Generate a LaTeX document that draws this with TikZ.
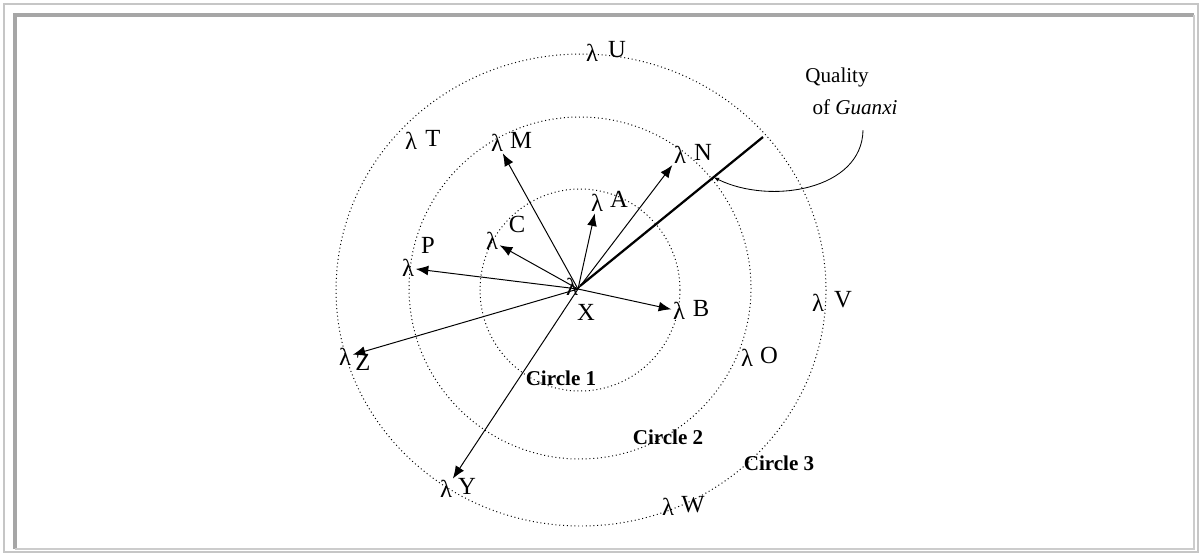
\documentclass[tikz,border=0pt]{standalone}
\usepackage{fontspec}
\setmainfont{Liberation Serif}
\usetikzlibrary{arrows.meta,calc}

\begin{document}
\begin{tikzpicture}[x=0.025cm, y=-0.025cm,
	every node/.style={font=\fontsize{17.5}{20}\selectfont, inner sep=1pt},
	ring/.style={dotted, line width=0.7pt},
	link/.style={line width=0.7pt, -{Latex[length=9pt,width=7pt]}},
	tag/.style={font=\bfseries\fontsize{15}{17}\selectfont}]
	\useasboundingbox (0,0) rectangle (1202,555);
	\draw[gray!45, line width=2pt] (4,4) rectangle (1198,552);
	\draw[gray!70, line width=2.5pt] (15,549) -- (15,15) -- (1194,15);
	\draw[gray!40, line width=1pt] (15,549) -- (1194,549) -- (1194,15);
	\coordinate (o) at (578,289);
	\draw[ring] (580,290) circle[x radius=100, y radius=101];
	\draw[ring] (580,288) circle[x radius=171, y radius=171];
	\draw[ring] (581,290) circle[x radius=245, y radius=236];
	\node (lM) at (497,143) {λ}; \node (M) at (521,140) {M};
	\node (lN) at (680,155) {λ}; \node (N) at (703,152) {N};
	\node (lA) at (597,203) {λ}; \node (A) at (619,199) {A};
	\node (lC) at (492,241) {λ}; \node (C) at (517,224) {C};
	\node (lP) at (408,268) {λ}; \node (P) at (428,245) {P};
	\node (lX) at (572,287) {λ}; \node (X) at (586,312) {X};
	\node (lB) at (679,311) {λ}; \node (B) at (701,308) {B};
	\node (lZ) at (345,357) {λ}; \node (Z) at (363,362) {Z};
	\node (lY) at (446,489) {λ}; \node (Y) at (467,486) {Y};
	\node (lT) at (411,141) {λ}; \node (T) at (433,138) {T};
	\node (lU) at (592,53) {λ}; \node (U) at (617,50) {U};
	\node (lV) at (818,303) {λ}; \node (V) at (843,300) {V};
	\node (lO) at (747,358) {λ}; \node (O) at (769,355) {O};
	\node (lW) at (668,507) {λ}; \node (W) at (693,505) {W};
	\node[tag] (c1) at (561,378) {Circle 1};
	\node[tag] (c2) at (668,437) {Circle 2};
	\node[tag] (c3) at (779,463) {Circle 3};
	\node[font=\fontsize{15}{17}\selectfont] (q1) at (837,77) {Quality};
	\node[font=\fontsize{15}{17}\selectfont] (q2) at (855,107) {of \textit{Guanxi}};
	\draw[link] (o) -- (lM);
	\draw[link] (o) -- (lN);
	\draw[link] (o) -- (lA);
	\draw[link] (o) -- (lC);
	\draw[link] (o) -- (lP);
	\draw[link] (o) -- (lB);
	\draw[link] (o) -- (lZ);
	\draw[link] (o) -- (lY);
	\coordinate (e) at (763,137);
	\draw[line width=1.6pt] (580,286) -- (e);
	\coordinate (g) at ($(580,286)!0.73!(e)$);
	\draw[line width=0.6pt, -{Latex[length=4pt,width=3pt]}] ([shift={(8,14)}]q2.south) .. controls (862,190) and (770,205) .. (g);
\end{tikzpicture}
\end{document}
